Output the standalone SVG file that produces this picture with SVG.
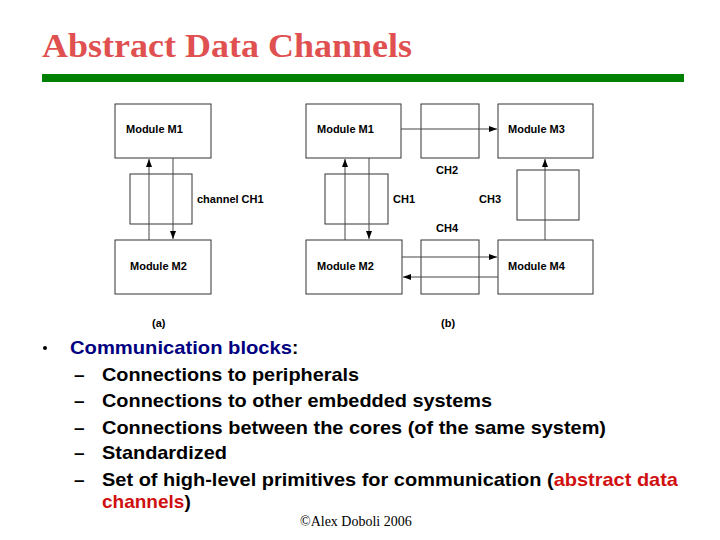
<svg xmlns="http://www.w3.org/2000/svg" width="720" height="540" viewBox="0 0 720 540">
<style>
.box{fill:#fff;stroke:#333;stroke-width:1}
.lbl{font-family:"Liberation Sans",Arial,sans-serif;font-weight:bold;font-size:11px;fill:#000}
.ln{stroke:#444;stroke-width:1;fill:none}
.b{font-family:"Liberation Sans",Arial,sans-serif;font-weight:bold;font-size:19px;fill:#000}
</style>
<defs><marker id="ah" markerWidth="8" markerHeight="6" refX="8" refY="3" orient="auto" markerUnits="userSpaceOnUse"><path d="M0,0 L8,3 L0,6 z" fill="#000"/></marker></defs>
<rect width="720" height="540" fill="#fff"/>
<text x="42" y="57" font-family="Liberation Serif,serif" font-weight="bold" font-size="33" fill="#E05050" textLength="370" lengthAdjust="spacingAndGlyphs">Abstract Data Channels</text>
<rect x="42" y="74" width="642" height="8" fill="#008000"/>
<g id="a-m1"><rect class="box" x="115" y="104" width="96" height="54"/><text class="lbl" x="126" y="133">Module M1</text></g>
<g id="a-ch1"><rect class="box" x="130" y="174" width="62" height="50"/><text class="lbl" x="197" y="203">channel CH1</text></g>
<g id="a-m2"><rect class="box" x="115" y="240" width="96" height="54"/><text class="lbl" x="130" y="270">Module M2</text></g>
<g id="b-m1"><rect class="box" x="306" y="104" width="95" height="54"/><text class="lbl" x="317" y="133">Module M1</text></g>
<g id="b-ch2"><rect class="box" x="421" y="104" width="58" height="54"/><text class="lbl" x="436" y="174">CH2</text></g>
<g id="b-m3"><rect class="box" x="498" y="104" width="95" height="54"/><text class="lbl" x="508" y="133">Module M3</text></g>
<g id="b-ch1"><rect class="box" x="325" y="174" width="63" height="50"/><text class="lbl" x="393" y="203">CH1</text></g>
<g id="b-ch3"><rect class="box" x="517" y="170" width="62" height="50"/><text class="lbl" x="479" y="203">CH3</text></g>
<g id="b-ch4"><rect class="box" x="421" y="240" width="58" height="54"/><text class="lbl" x="436" y="232">CH4</text></g>
<g id="b-m2"><rect class="box" x="306" y="240" width="96" height="54"/><text class="lbl" x="317" y="270">Module M2</text></g>
<g id="b-m4"><rect class="box" x="498" y="240" width="95" height="54"/><text class="lbl" x="508" y="270">Module M4</text></g>
<g id="connectors">
<line class="ln" x1="149" y1="240" x2="149" y2="159" marker-end="url(#ah)"/>
<line class="ln" x1="173" y1="158" x2="173" y2="239" marker-end="url(#ah)"/>
<line class="ln" x1="345" y1="240" x2="345" y2="159" marker-end="url(#ah)"/>
<line class="ln" x1="369" y1="158" x2="369" y2="239" marker-end="url(#ah)"/>
<line class="ln" x1="401" y1="129" x2="497" y2="129" marker-end="url(#ah)"/>
<line class="ln" x1="402" y1="257" x2="497" y2="257" marker-end="url(#ah)"/>
<line class="ln" x1="498" y1="277" x2="403" y2="277" marker-end="url(#ah)"/>
<line class="ln" x1="545" y1="240" x2="545" y2="159" marker-end="url(#ah)"/>
</g>
<text class="lbl" x="152" y="327">(a)</text>
<text class="lbl" x="441" y="327">(b)</text>
<circle cx="45" cy="348" r="2" fill="#000"/>
<text x="70" y="354" font-family="Liberation Sans,sans-serif" font-weight="bold" font-size="19" fill="#000080"><tspan textLength="222" lengthAdjust="spacingAndGlyphs">Communication blocks</tspan><tspan fill="#000">:</tspan></text>
<g class="b">
<text class="b" x="74" y="381">–</text><text class="b" x="102" y="381" textLength="257" lengthAdjust="spacingAndGlyphs">Connections to peripherals</text>
<text class="b" x="74" y="407">–</text><text class="b" x="102" y="407" textLength="390" lengthAdjust="spacingAndGlyphs">Connections to other embedded systems</text>
<text class="b" x="74" y="434">–</text><text class="b" x="102" y="434" textLength="504" lengthAdjust="spacingAndGlyphs">Connections between the cores (of the same system)</text>
<text class="b" x="74" y="459">–</text><text class="b" x="102" y="459" textLength="125" lengthAdjust="spacingAndGlyphs">Standardized</text>
<text class="b" x="74" y="486">–</text><text class="b" x="102" y="486" textLength="576" lengthAdjust="spacingAndGlyphs">Set of high-level primitives for communication (<tspan fill="#D01010">abstract data</tspan></text>
<text class="b" x="102" y="508"><tspan fill="#D01010">channels</tspan>)</text>
</g>
<text x="300" y="526" font-family="Liberation Serif,serif" font-size="14" fill="#000">©Alex Doboli 2006</text>
</svg>
